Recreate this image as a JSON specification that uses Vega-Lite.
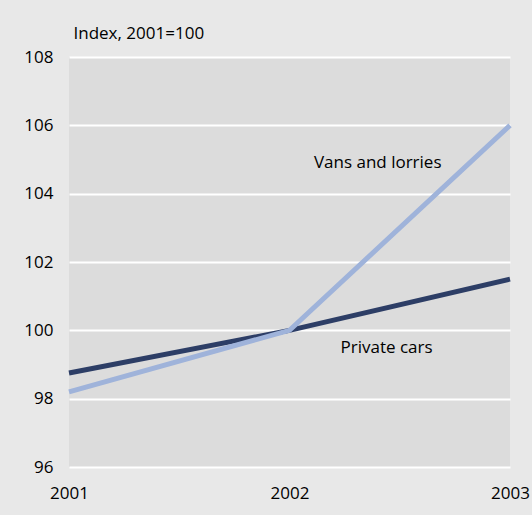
{
  "$schema": "https://vega.github.io/schema/vega-lite/v6.json",
  "width": 441,
  "height": 410,
  "autosize": {"type": "none"},
  "padding": {"left": 69, "top": 57, "right": 22, "bottom": 48},
  "background": "#e8e8e8",
  "config": {
    "font": "Open Sans",
    "view": {"fill": "#dcdcdc", "stroke": null},
    "axis": {"labelFont": "Open Sans", "labelFontSize": 17, "labelColor": "#000000", "titleFont": "Open Sans", "titleColor": "#000000", "domain": false, "ticks": false, "labelOverlap": false}
  },
  "datasets": {
    "lines": [
      {"year": 2001, "series": "Private cars", "value": 98.75},
      {"year": 2002, "series": "Private cars", "value": 100},
      {"year": 2003, "series": "Private cars", "value": 101.5},
      {"year": 2001, "series": "Vans and lorries", "value": 98.2},
      {"year": 2002, "series": "Vans and lorries", "value": 100},
      {"year": 2003, "series": "Vans and lorries", "value": 106}
    ],
    "labels": [
      {"year": 2002.4, "value": 104.9, "label": "Vans and lorries", "series": "Vans and lorries"},
      {"year": 2002.44, "value": 99.48, "label": "Private cars", "series": "Private cars"}
    ]
  },
  "encoding": {
    "x": {"field": "year", "type": "quantitative", "scale": {"domain": [2001, 2003], "nice": false}, "axis": {"values": [2001, 2002, 2003], "labelExpr": "format(round(datum.value), 'd')", "grid": false, "labelPadding": 18, "labelFlush": false, "labelOverlap": false, "labelBound": false, "title": null}},
    "y": {"field": "value", "type": "quantitative", "scale": {"domain": [96, 108], "nice": false, "zero": false}, "axis": {"values": [96, 98, 100, 102, 104, 106, 108], "gridColor": "#ffffff", "gridWidth": 2, "gridOpacity": 1, "labelPadding": 16, "title": "Index, 2001=100", "titleAngle": 0, "titleAlign": "left", "titleBaseline": "alphabetic", "titleX": 4, "titleY": -19, "titleFontSize": 17, "titleFontWeight": "normal"}}
  },
  "layer": [
    {
      "data": {"name": "lines"},
      "mark": {"type": "line", "strokeWidth": 5, "strokeCap": "butt"},
      "encoding": {
        "color": {"field": "series", "type": "nominal", "scale": {"domain": ["Private cars", "Vans and lorries"], "range": ["#2d3e66", "#9fb3da"]}, "legend": null},
        "order": {"field": "year"}
      }
    },
    {
      "data": {"name": "labels"},
      "mark": {"type": "text", "fontSize": 17, "align": "center", "baseline": "middle", "color": "#000000"},
      "encoding": {
        "text": {"field": "label"}
      }
    }
  ]
}
